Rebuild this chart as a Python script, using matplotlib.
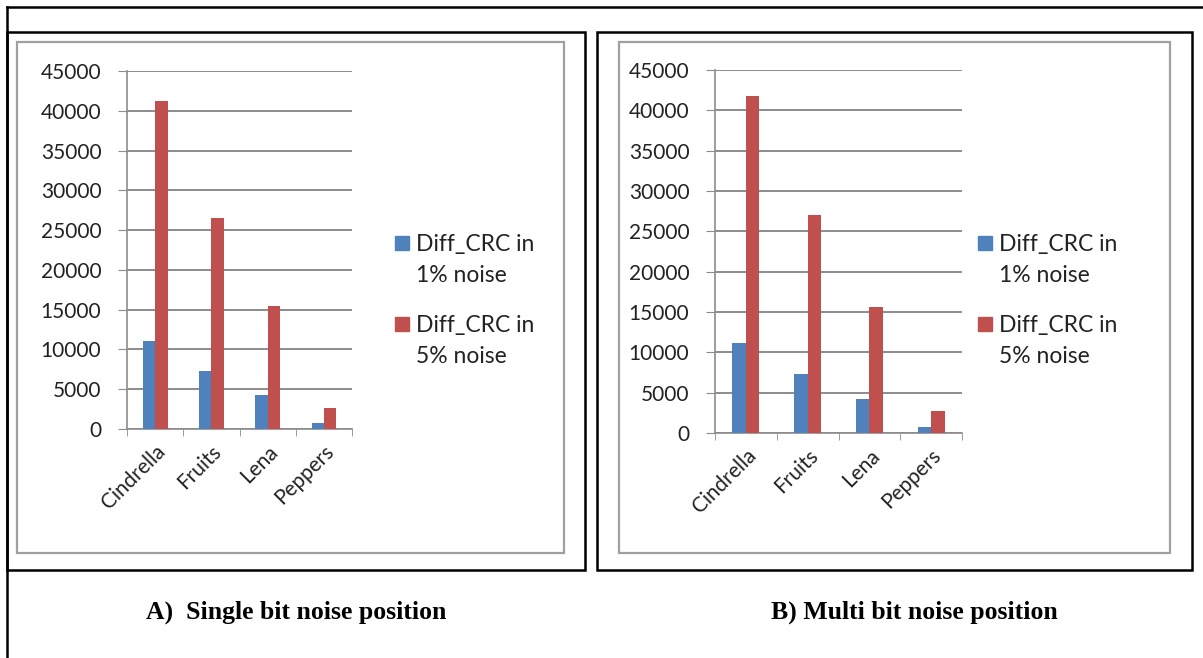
import numpy as np
import matplotlib.pyplot as plt
from matplotlib.patches import Rectangle
from matplotlib.lines import Line2D

W, H = 1203, 658

# data
images = ['Cindrella', 'Fruits', 'Lena', 'Peppers']
single_1 = [11100, 7300, 4250, 800]
single_5 = [41200, 26500, 15400, 2650]
multi_1 = [11200, 7300, 4200, 780]
multi_5 = [41800, 27000, 15600, 2700]
legend_labels = ['Diff_CRC in\n1% noise', 'Diff_CRC in\n5% noise']
captions = ['A)  Single bit noise position', 'B) Multi bit noise position']

BLUE = '#4F81BD'
RED = '#C0504D'
GRID = '#8c8c8c'
FONT = 'Lato'

fig = plt.figure(figsize=(W / 100, H / 100), dpi=100)


# pixel box (x0, y0 top, x1, y1 bottom) -> figure fractions
def fbox(x0, y0, x1, y1):
    return [x0 / W, 1 - y1 / H, (x1 - x0) / W, (y1 - y0) / H]


def frame(x0, y0, x1, y1, color='black', lw=1.8):
    b = fbox(x0, y0, x1, y1)
    fig.add_artist(Rectangle((b[0], b[1]), b[2], b[3], transform=fig.transFigure,
                             fill=False, edgecolor=color, linewidth=lw))


def line(xs, ys, lw=1.8):
    fig.add_artist(Line2D([x / W for x in xs], [1 - y / H for y in ys],
                          transform=fig.transFigure, color='black', linewidth=lw))


# outer page frame
line([6.5, W], [7, 7])
line([6.5, 6.5], [7, H])

# panel frames and chart area borders
frame(7, 32, 585, 570)
frame(597, 32, 1192, 570)
frame(17, 42, 564, 553, color='#a0a0a0', lw=1.6)
frame(619, 42, 1170, 553, color='#a0a0a0', lw=1.6)


def draw_chart(box, v1, v5, leg_x):
    ax = fig.add_axes(fbox(*box))
    x = np.arange(len(images))
    w = 0.22
    ax.bar(x - w / 2, v1, w, color=BLUE, zorder=3)
    ax.bar(x + w / 2, v5, w, color=RED, zorder=3)
    ax.set_xlim(-0.5, len(images) - 0.5)
    ax.set_ylim(0, 45000)
    ax.set_yticks(np.arange(0, 45001, 5000))
    ax.yaxis.grid(True, color=GRID, linewidth=1.4, zorder=0)
    ax.set_xticks(x)
    ax.set_xticklabels(images, rotation=45, ha='right', rotation_mode='anchor',
                       fontsize=15, family=FONT, color='#222222')
    ax.set_xticks(np.arange(-0.5, len(images)), minor=True)
    ax.tick_params(axis='x', which='major', length=0, pad=9)
    ax.tick_params(axis='x', which='minor', length=5, color=GRID, direction='out')
    ax.tick_params(axis='y', length=6.5, color=GRID, pad=12, labelsize=15, labelcolor='#222222')
    for t in ax.get_yticklabels():
        t.set_family(FONT)
    for s in ['top', 'right']:
        ax.spines[s].set_visible(False)
    for s in ['left', 'bottom']:
        ax.spines[s].set_color(GRID)
        ax.spines[s].set_linewidth(1.2)

    # legend drawn beside the plot like the Excel one
    for i, (lab, col) in enumerate(zip(legend_labels, [BLUE, RED])):
        ty = 243 + i * 81
        b = fbox(leg_x, ty - 7, leg_x + 14, ty + 7)
        fig.add_artist(Rectangle((b[0], b[1]), b[2], b[3], transform=fig.transFigure,
                                 color=col))
        fig.text((leg_x + 21) / W, 1 - (ty - 9) / H, lab, fontsize=16.5, family=FONT,
                 va='top', ha='left', linespacing=1.6, color='#222222')
    return ax


draw_chart((127, 71, 352, 429), single_1, single_5, 395)
draw_chart((715, 70, 962, 433), multi_1, multi_5, 978)

fig.text(296 / W, 1 - 612 / H, captions[0], ha='center', va='center',
         fontsize=18.5, fontweight='bold', family='Liberation Serif')
fig.text(914 / W, 1 - 612 / H, captions[1], ha='center', va='center',
         fontsize=18.5, fontweight='bold', family='Liberation Serif')

fig.savefig('out.png', dpi=100)
